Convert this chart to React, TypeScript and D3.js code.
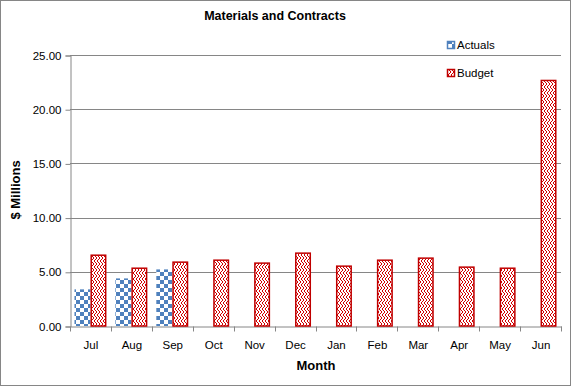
import React, { useEffect, useRef } from "react";
import * as d3 from "d3";

const months = ["Jul", "Aug", "Sep", "Oct", "Nov", "Dec", "Jan", "Feb", "Mar", "Apr", "May", "Jun"];
const actuals: (number | null)[] = [3.38, 4.39, 5.22, null, null, null, null, null, null, null, null, null];
const budget = [6.6, 5.4, 5.96, 6.14, 5.87, 6.79, 5.59, 6.14, 6.33, 5.5, 5.4, 22.72];
const yTicks = [0, 5, 10, 15, 20, 25];
const seriesNames = ["Actuals", "Budget"];

// row shifts for the zigzag hatch on budget bars
const zigShift = [0, 1, 2, 2, 1, 0];

const App = () => {
  const svgRef = useRef<SVGSVGElement | null>(null);
  const w = 571;
  const h = 386;
  const m = { top: 55, right: 10, bottom: 60, left: 70 };
  const font = "'Liberation Sans', Arial, sans-serif";

  useEffect(() => {
    const svg = d3.select(svgRef.current);
    svg.selectAll("*").remove();

    const defs = svg.append("defs");
    // checkerboard for actuals
    const chk = defs.append("pattern")
      .attr("id", "chk")
      .attr("patternUnits", "userSpaceOnUse")
      .attr("width", 8)
      .attr("height", 8);
    chk.append("rect").attr("width", 8).attr("height", 8).attr("fill", "#fff");
    chk.append("rect").attr("width", 4).attr("height", 4).attr("fill", "#4F81BD");
    chk.append("rect").attr("x", 4).attr("y", 4).attr("width", 4).attr("height", 4).attr("fill", "#4F81BD");

    const zz = defs.append("pattern")
      .attr("id", "zig")
      .attr("patternUnits", "userSpaceOnUse")
      .attr("width", 6)
      .attr("height", 6);
    zz.append("rect").attr("width", 6).attr("height", 6).attr("fill", "#ffffff");
    zigShift.forEach((s, r) => {
      for (let c = 0; c < 6; c++) {
        if ((c + s) % 3 === 0) {
          zz.append("rect")
            .attr("x", c).attr("y", r)
            .attr("width", 1).attr("height", 1)
            .attr("fill", "#D00000")
            .attr("shape-rendering", "crispEdges");
        }
      }
    });

    svg.append("rect")
      .attr("x", 0.5).attr("y", 0.5)
      .attr("width", w - 1).attr("height", h - 1)
      .attr("fill", "#fff")
      .attr("stroke", "#868686");

    const x = d3.scaleBand().domain(months).range([m.left, w - m.right]).paddingInner(0).paddingOuter(0);
    const xSub = d3.scaleBand().domain(seriesNames).range([0, x.bandwidth()]).paddingInner(0).paddingOuter(0.28);
    const y = d3.scaleLinear().domain([0, 25]).range([h - m.bottom, m.top]);

    // gridlines
    svg.append("g")
      .selectAll("line")
      .data(yTicks.filter((t) => t > 0))
      .enter()
      .append("line")
      .attr("x1", m.left)
      .attr("x2", w - m.right)
      .attr("y1", (d) => Math.round(y(d)) + 0.5)
      .attr("y2", (d) => Math.round(y(d)) + 0.5)
      .attr("stroke", "#868686");

    // y axis
    const yAxis = svg.append("g")
      .attr("transform", `translate(${m.left + 0.5},0.5)`)
      .call(d3.axisLeft(y).tickValues(yTicks).tickSize(5).tickPadding(4).tickFormat(d3.format(".2f")));
    yAxis.select(".domain").attr("stroke", "#868686");
    yAxis.selectAll(".tick line").attr("stroke", "#868686");
    yAxis.selectAll("text")
      .style("font-family", font)
      .style("font-size", "11.5px")
      .attr("fill", "#000");

    // x axis
    const xAxis = svg.append("g")
      .attr("transform", `translate(0.5,${Math.round(y(0)) + 0.5})`)
      .call(d3.axisBottom(x).tickSize(0).tickPadding(14));
    xAxis.select(".domain").attr("stroke", "#868686");
    xAxis.selectAll("text")
      .style("font-family", font)
      .style("font-size", "11.5px")
      .attr("fill", "#000");
    xAxis.selectAll(".tickmark")
      .data(months.concat(["end"]))
      .enter()
      .append("line")
      .attr("x1", (d, i) => Math.round(m.left + i * x.step()))
      .attr("x2", (d, i) => Math.round(m.left + i * x.step()))
      .attr("y1", 0)
      .attr("y2", 5)
      .attr("stroke", "#868686");

    // bars
    const bars = svg.append("g");
    bars.selectAll(".act")
      .data(months.map((mo, i) => ({ mo, v: actuals[i] })).filter((d) => d.v != null))
      .enter()
      .append("rect")
      .attr("x", (d) => x(d.mo)! + xSub("Actuals")!)
      .attr("y", (d) => y(d.v as number))
      .attr("width", xSub.bandwidth())
      .attr("height", (d) => y(0) - y(d.v as number))
      .attr("fill", "url(#chk)");

    bars.selectAll(".bud")
      .data(months.map((mo, i) => ({ mo, v: budget[i] })))
      .enter()
      .append("rect")
      .attr("x", (d) => x(d.mo)! + xSub("Budget")! + 0.75)
      .attr("y", (d) => y(d.v) + 0.75)
      .attr("width", xSub.bandwidth() - 1.5)
      .attr("height", (d) => y(0) - y(d.v) - 0.75)
      .attr("fill", "url(#zig)")
      .attr("stroke", "#C00000")
      .attr("stroke-width", 1.5);

    // legend
    const legend = svg.append("g");
    seriesNames.forEach((s, i) => {
      const ly = 45 + i * 28;
      legend.append("rect")
        .attr("x", 447.5)
        .attr("y", ly - 3.5)
        .attr("width", 7)
        .attr("height", 7)
        .attr("fill", i === 0 ? "url(#chk)" : "url(#zig)")
        .attr("stroke", i === 0 ? "#4F81BD" : "#C00000")
        .attr("stroke-width", 1.5);
      legend.append("text")
        .attr("x", 457)
        .attr("y", ly + 4)
        .style("font-family", font)
        .style("font-size", "11.5px")
        .text(s);
    });

    // titles
    svg.append("text")
      .attr("x", 275)
      .attr("y", 20)
      .attr("text-anchor", "middle")
      .style("font-family", font)
      .style("font-size", "12.5px")
      .style("font-weight", "bold")
      .text("Materials and Contracts");

    svg.append("text")
      .attr("transform", `translate(20,190) rotate(-90)`)
      .attr("text-anchor", "middle")
      .style("font-family", font)
      .style("font-size", "13px")
      .style("font-weight", "bold")
      .text("$ Millions");

    svg.append("text")
      .attr("x", 316)
      .attr("y", 370)
      .attr("text-anchor", "middle")
      .style("font-family", font)
      .style("font-size", "13px")
      .style("font-weight", "bold")
      .text("Month");
  }, []);

  return (
    <svg
      ref={svgRef}
      width={w}
      height={h}
      style={{ position: "absolute", left: 0, top: 0 }}
    ></svg>
  );
};

export default App;
